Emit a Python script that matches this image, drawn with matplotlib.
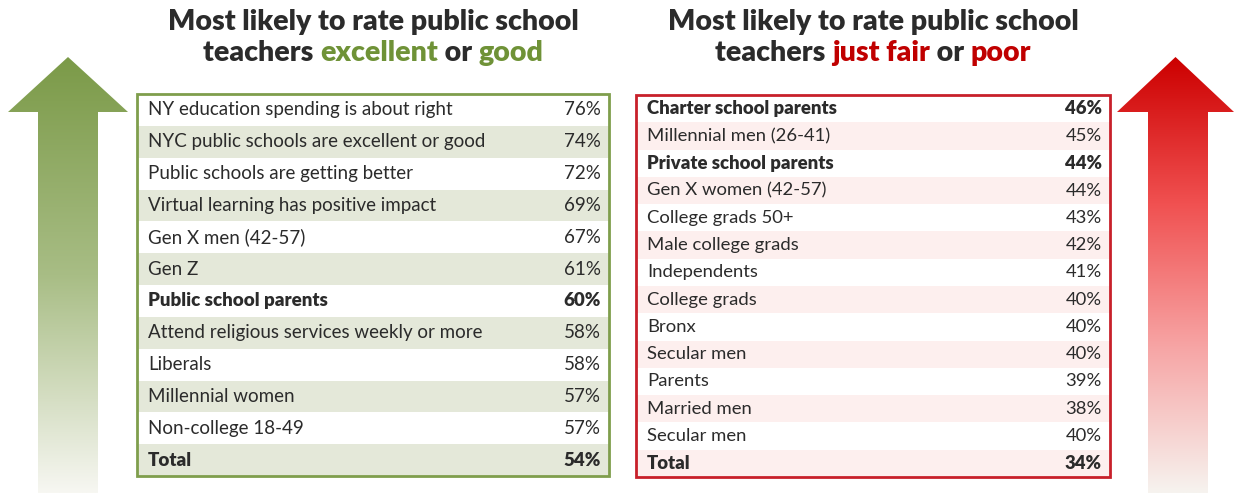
import numpy as np
import matplotlib
matplotlib.use('Agg')
import matplotlib.pyplot as plt
from matplotlib.patches import Rectangle, Polygon
from matplotlib.colors import LinearSegmentedColormap

plt.rcParams['font.family'] = ['Lato', 'DejaVu Sans']

# ratings data
good_labels = ['NY education spending is about right', 'NYC public schools are excellent or good',
               'Public schools are getting better', 'Virtual learning has positive impact',
               'Gen X men (42-57)', 'Gen Z', 'Public school parents',
               'Attend religious services weekly or more', 'Liberals', 'Millennial women',
               'Non-college 18-49', 'Total']
good_values = [76, 74, 72, 69, 67, 61, 60, 58, 58, 57, 57, 54]
good_bold = ['Public school parents', 'Total']

poor_labels = ['Charter school parents', 'Millennial men (26-41)', 'Private school parents',
               'Gen X women (42-57)', 'College grads 50+', 'Male college grads', 'Independents',
               'College grads', 'Bronx', 'Secular men', 'Parents', 'Married men', 'Secular men',
               'Total']
poor_values = [46, 45, 44, 44, 43, 42, 41, 40, 40, 40, 39, 38, 40, 34]
poor_bold = ['Charter school parents', 'Private school parents', 'Total']

GREEN = '#6f9237'
GREEN_EDGE = '#7f9e4c'
GREEN_TINT = '#e4e8d9'
RED = '#c00000'
RED_EDGE = '#c8202a'
RED_TINT = '#fdefee'
TEXT = '#2b2b2b'
TITLE_FS = 20.5

W, H = 1234, 493
fig = plt.figure(figsize=(W / 100, H / 100), dpi=100)
ax = fig.add_axes([0, 0, 1, 1])
ax.set_xlim(0, W)
ax.set_ylim(H, 0)
ax.axis('off')


def draw_arrow(x0, x1, shaft0, shaft1, tip, base, bottom, colors):
    cmap = LinearSegmentedColormap.from_list('g', colors)
    grad = np.linspace(0, 1, 256).reshape(-1, 1)
    im = ax.imshow(grad, cmap=cmap, extent=[x0, x1, bottom, tip], aspect='auto',
                   interpolation='bilinear', zorder=1)
    xm = (x0 + x1) / 2
    poly = Polygon([(xm, tip), (x1, base), (shaft1, base), (shaft1, bottom),
                    (shaft0, bottom), (shaft0, base), (x0, base)],
                   closed=True, facecolor='none', edgecolor='none')
    ax.add_patch(poly)
    im.set_clip_path(poly)


def draw_table(x0, x1, y0, y1, labels, values, bold, edge, tint, fs):
    n = len(labels)
    rh = (y1 - y0) / n
    for i, (lab, val) in enumerate(zip(labels, values)):
        ry = y0 + i * rh
        if i % 2 == 1:
            ax.add_patch(Rectangle((x0, ry), x1 - x0, rh, facecolor=tint,
                                   edgecolor='none', zorder=2))
        w = 'heavy' if lab in bold else 'normal'
        ax.text(x0 + 11, ry + rh / 2, lab, fontsize=fs, fontweight=w, color=TEXT,
                va='center', ha='left', zorder=3)
        ax.text(x1 - 8, ry + rh / 2, f'{val}%', fontsize=fs, fontweight=w, color=TEXT,
                va='center', ha='right', zorder=3)
    ax.add_patch(Rectangle((x0, y0), x1 - x0, y1 - y0, facecolor='none',
                           edgecolor=edge, linewidth=2, zorder=4))


def draw_title(xc, word1, word2, col):
    ax.text(xc, 22, 'Most likely to rate public school', fontsize=TITLE_FS, fontweight='heavy',
            color=TEXT, ha='center', va='center')
    parts = [('teachers ', TEXT), (word1, col), (' or ', TEXT), (word2, col)]
    # measure pieces so the second line stays centred
    r = fig.canvas.get_renderer()
    widths = []
    for s, c in parts:
        t = ax.text(0, 0, s, fontsize=TITLE_FS, fontweight='heavy')
        widths.append(t.get_window_extent(renderer=r).width)
        t.remove()
    x = xc - sum(widths) / 2
    for (s, c), w in zip(parts, widths):
        ax.text(x, 53, s, fontsize=TITLE_FS, fontweight='heavy', color=c, ha='left', va='center')
        x += w


draw_arrow(8, 128, 38, 98, 57, 112, 493, ['#7b9a48', '#a8bd85', '#f7f7f2'])
draw_arrow(1117, 1234, 1148, 1208, 57, 112, 493, ['#cc0000', '#f05050', '#f7a5a5', '#f6f3ef'])

draw_table(137, 609, 94, 476, good_labels, good_values, good_bold, GREEN_EDGE, GREEN_TINT, 13.5)
draw_table(636, 1110, 95, 477, poor_labels, poor_values, poor_bold, RED_EDGE, RED_TINT, 13.3)

draw_title(373, 'excellent', 'good', GREEN)
draw_title(873, 'just fair', 'poor', RED)

fig.savefig('out.png', dpi=100, facecolor='white')
